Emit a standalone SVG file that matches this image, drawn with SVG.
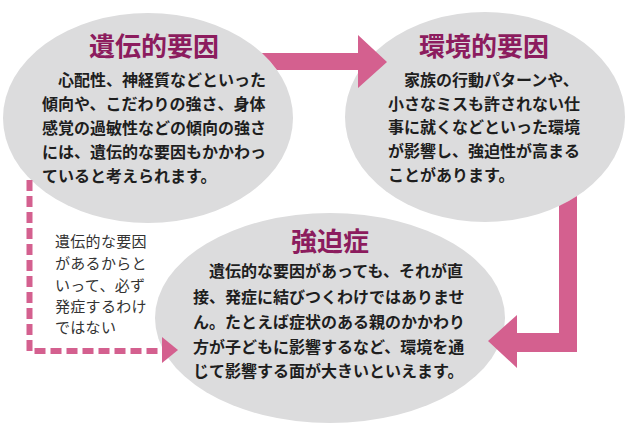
<svg xmlns="http://www.w3.org/2000/svg" width="634" height="444" viewBox="0 0 634 444">
<style>
.bg{fill:#dcdcdd}
.ttl{font-family:"Noto Sans CJK JP","Noto Sans",sans-serif;font-weight:bold;font-size:26px;fill:#8c1c5e;text-anchor:middle}
.body{font-family:"Noto Sans CJK JP","Noto Sans",sans-serif;font-weight:bold;font-size:16px;fill:#1e1e1e}
.note{font-family:"Noto Sans CJK JP","Noto Sans",sans-serif;font-size:15px;fill:#333;letter-spacing:0.3px}
.arrow{fill:#d4608f}
.dash{fill:none;stroke:#d4608f;stroke-width:6;stroke-dasharray:11 5}
</style>
<rect width="634" height="444" fill="#fff"/>
<g id="node-ocd">
<ellipse class="bg" cx="330" cy="318" rx="175" ry="105"/>
<text class="ttl" x="330" y="251">強迫症</text>
<text class="body" x="209" y="277">遺伝的な要因があっても、それが直</text>
<text class="body" x="193" y="303">接、発症に結びつくわけではありませ</text>
<text class="body" x="193" y="328">ん。たとえば症状のある親のかかわり</text>
<text class="body" x="193" y="353">方が子どもに影響するなど、環境を通</text>
<text class="body" x="193" y="377">じて影響する面が大きいといえます。</text>
</g>
<g id="node-env">
<ellipse class="bg" cx="485" cy="117" rx="140" ry="105"/>
<text class="ttl" x="484" y="56">環境的要因</text>
<text class="body" x="404" y="86">家族の行動パターンや、</text>
<text class="body" x="388" y="110">小さなミスも許されない仕</text>
<text class="body" x="388" y="133">事に就くなどといった環境</text>
<text class="body" x="388" y="157">が影響し、強迫性が高まる</text>
<text class="body" x="388" y="181">ことがあります。</text>
</g>
<g id="node-gen">
<ellipse class="bg" cx="148" cy="118" rx="145" ry="105"/>
<text class="ttl" x="154" y="56">遺伝的要因</text>
<text class="body" x="58" y="86">心配性、神経質などといった</text>
<text class="body" x="42" y="110">傾向や、こだわりの強さ、身体</text>
<text class="body" x="42" y="134">感覚の過敏性などの傾向の強さ</text>
<text class="body" x="42" y="158">には、遺伝的な要因もかかわっ</text>
<text class="body" x="42" y="182">ていると考えられます。</text>
</g>
<g id="note">
<text class="note" x="55" y="247">遺伝的な要因</text>
<text class="note" x="55" y="269">があるからと</text>
<text class="note" x="55" y="291">いって、必ず</text>
<text class="note" x="55" y="312">発症するわけ</text>
<text class="note" x="55" y="333">ではない</text>
</g>
<g id="connectors">
<path class="arrow" d="M261.9,53 L358,53 L358,35 L387,62 L358,88 L358,70 L277,70 A145 105 0 0 0 261.9,53 Z"/>
<path class="arrow" d="M559,206.1 L559,333 L517,333 L517,315 L488,341 L517,368 L517,352 L577,352 L577,196.1 A140 105 0 0 1 559,206.1 Z"/>
<path class="dash" d="M29.5,180 L29.5,351 L162,351"/>
<polygon class="arrow" points="162,337 178,350 162,363"/>
</g>
</svg>
